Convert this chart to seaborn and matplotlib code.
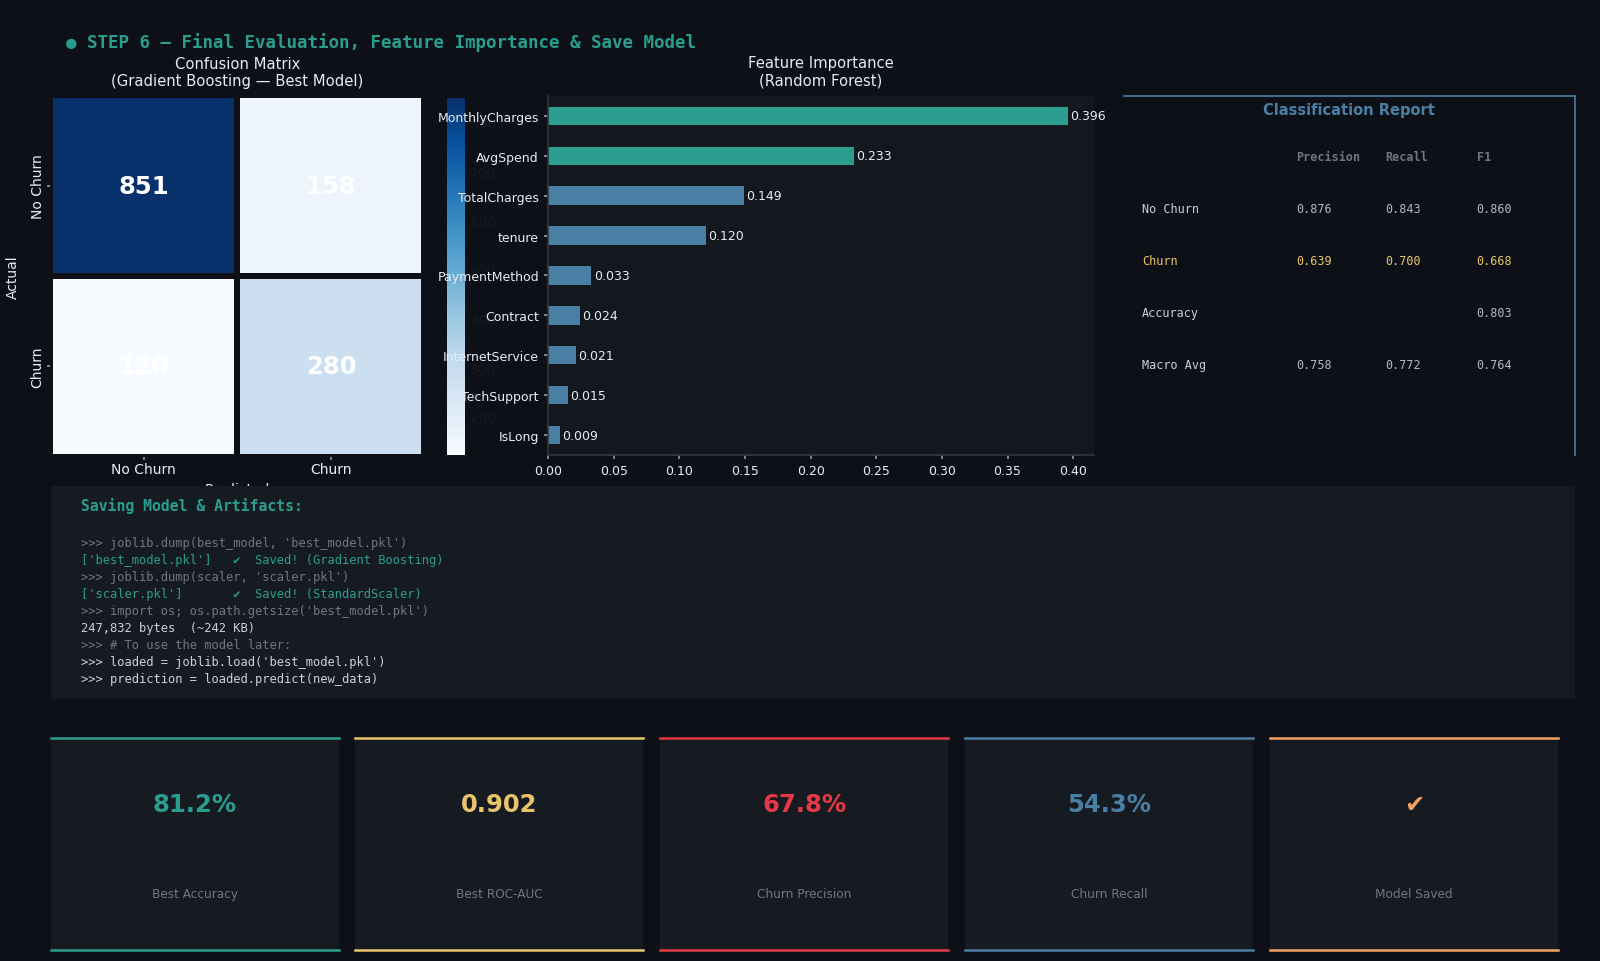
import matplotlib
matplotlib.use("Agg")
import matplotlib.pyplot as plt
import seaborn as sns
import numpy as np
import pandas as pd

# ---- data ----
cm_labels = ["No Churn", "Churn"]
cm_values = [[851, 158], [120, 280]]

features = ["MonthlyCharges", "AvgSpend", "TotalCharges", "tenure", "PaymentMethod",
            "Contract", "InternetService", "TechSupport", "IsLong"]
importances = [0.396, 0.233, 0.149, 0.120, 0.033, 0.024, 0.021, 0.015, 0.009]

report_cols = ["Precision", "Recall", "F1"]
report_rows = ["No Churn", "Churn", "Accuracy", "Macro Avg"]
report_vals = [["0.876", "0.843", "0.860"],
               ["0.639", "0.700", "0.668"],
               ["", "", "0.803"],
               ["0.758", "0.772", "0.764"]]

code_lines = [">>> joblib.dump(best_model, 'best_model.pkl')",
              "['best_model.pkl']   \u2714  Saved! (Gradient Boosting)",
              ">>> joblib.dump(scaler, 'scaler.pkl')",
              "['scaler.pkl']       \u2714  Saved! (StandardScaler)",
              ">>> import os; os.path.getsize('best_model.pkl')",
              "247,832 bytes  (~242 KB)",
              ">>> # To use the model later:",
              ">>> loaded = joblib.load('best_model.pkl')",
              ">>> prediction = loaded.predict(new_data)"]
code_kinds = ["cmd", "out", "cmd", "out", "cmd", "txt", "cmd", "txt", "txt"]

card_values = ["81.2%", "0.902", "67.8%", "54.3%", "\u2714"]
card_labels = ["Best Accuracy", "Best ROC-AUC", "Churn Precision", "Churn Recall", "Model Saved"]

# ---- style ----
BG = "#0d1117"
PANEL = "#161b22"
TEAL = "#2a9d8f"
YELLOW = "#e9c46a"
RED = "#e63946"
BLUE = "#4a7fa5"
ORANGE = "#f4a261"
TEXT = "#e6edf3"
MUTED = "#8b949e"
DIM = "#6e7681"

sns.set_theme(style="dark")
plt.rcParams["font.family"] = ["DejaVu Sans"]
plt.rcParams["figure.facecolor"] = BG
plt.rcParams["axes.facecolor"] = BG

fig = plt.figure(figsize=(16, 9.62), dpi=100)
fig.text(0.0415, 0.9555, "\u25cf STEP 6 \u2014 Final Evaluation, Feature Importance & Save Model",
         color=TEAL, fontsize=12.6, fontweight="bold", family="DejaVu Sans Mono", va="center")

# confusion matrix
ax_cm = fig.add_axes([0.0313, 0.524, 0.2340, 0.376])
ax_cb = fig.add_axes([0.2793, 0.526, 0.0115, 0.371])
cm_df = pd.DataFrame(cm_values, index=cm_labels, columns=cm_labels)
sns.heatmap(cm_df, annot=True, fmt="d", cmap="Blues", ax=ax_cm, cbar_ax=ax_cb,
            linewidths=3, linecolor=BG,
            annot_kws={"fontsize": 17.5, "fontweight": "bold", "color": "white"})
ax_cm.set_title("Confusion Matrix\n(Gradient Boosting \u2014 Best Model)", color=TEXT,
                fontsize=10.6, pad=7)
ax_cm.set_ylabel("Actual", color=TEXT, fontsize=10, labelpad=8)
ax_cm.set_xlabel("Predicted", color=TEXT, fontsize=10)
ax_cm.tick_params(colors=TEXT, labelsize=10, left=True, bottom=True, length=2, pad=2)
ax_cm.tick_params(axis="both", color=MUTED)
for t in ax_cm.get_yticklabels():
    t.set_rotation(90)
    t.set_va("center")
ax_cb.tick_params(colors="#151a21", labelsize=10, length=0)
ax_cb.set_frame_on(False)

# feature importance
ax_fi = fig.add_axes([0.3425, 0.526, 0.3412, 0.3733])
ax_fi.set_facecolor("#13171e")
fi_df = pd.DataFrame({"feature": features, "importance": importances})
bar_colors = [TEAL, TEAL] + [BLUE] * (len(features) - 2)
sns.barplot(data=fi_df, x="importance", y="feature", hue="feature", palette=bar_colors,
            legend=False, width=0.46, ax=ax_fi, saturation=1, edgecolor="none", linewidth=0)
for i, v in enumerate(importances):
    ax_fi.text(v + 0.002, i, f"{v:.3f}", color=TEXT, fontsize=9, va="center")
ax_fi.set_xlim(0, max(importances) * 1.05)
ax_fi.set_title("Feature Importance\n(Random Forest)", color=TEXT, fontsize=10.6, pad=8)
ax_fi.set_xlabel("")
ax_fi.set_ylabel("")
ax_fi.tick_params(colors=TEXT, labelsize=9, left=True, bottom=True, length=3)
ax_fi.tick_params(axis="both", color=MUTED)
for s in ["top", "right"]:
    ax_fi.spines[s].set_visible(False)
for s in ["left", "bottom"]:
    ax_fi.spines[s].set_color("#30363d")
    ax_fi.spines[s].set_visible(True)

# classification report
ax_cr = fig.add_axes([0.7022, 0.526, 0.2819, 0.373])
ax_cr.set_xticks([])
ax_cr.set_yticks([])
ax_cr.set_xlim(0, 1)
ax_cr.set_ylim(0, 1)
for s in ["left", "bottom"]:
    ax_cr.spines[s].set_visible(False)
for s in ["top", "right"]:
    ax_cr.spines[s].set_visible(True)
    ax_cr.spines[s].set_color(BLUE)
    ax_cr.spines[s].set_linewidth(1.2)
ax_cr.text(0.5, 0.963, "Classification Report", color=BLUE, fontsize=10.5,
           fontweight="bold", ha="center", va="center")
col_x = [0.382, 0.581, 0.783]
for cx, c in zip(col_x, report_cols):
    ax_cr.text(cx, 0.832, c, color=DIM, fontsize=8.5, fontweight="bold",
               family="DejaVu Sans Mono", va="center")
row_y = [0.6875, 0.543, 0.398, 0.253]
for ry, name, vals in zip(row_y, report_rows, report_vals):
    col = YELLOW if name == "Churn" else "#c9d1d9"
    ax_cr.text(0.0407, ry, name, color=col, fontsize=8.5, family="DejaVu Sans Mono", va="center")
    for cx, v in zip(col_x, vals):
        ax_cr.text(cx, ry, v, color=col if name == "Churn" else "#b1bac4", fontsize=8.5,
                   family="DejaVu Sans Mono", va="center")

# code box
ax_code = fig.add_axes([0.0319, 0.2725, 0.9522, 0.2216], zorder=5)
ax_code.set_facecolor(PANEL)
ax_code.set_xticks([])
ax_code.set_yticks([])
for s in ax_code.spines.values():
    s.set_visible(False)
ax_code.text(0.0194, 0.909, "Saving Model & Artifacts:", color=TEAL, fontsize=10.6,
             fontweight="bold", family="DejaVu Sans Mono", va="center", transform=ax_code.transAxes)
kind_color = {"cmd": DIM, "out": TEAL, "txt": "#c9d1d9"}
for i, (line, kind) in enumerate(zip(code_lines, code_kinds)):
    ax_code.text(0.0194, 0.735 - i * 0.0801, line, color=kind_color[kind], fontsize=8.7,
                 family="DejaVu Sans Mono", va="center", transform=ax_code.transAxes)

# metric cards
card_colors = [TEAL, YELLOW, RED, BLUE, ORANGE]
card_left = [50, 348, 647, 946, 1245]
for lx, val, lab, col in zip(card_left, card_values, card_labels, card_colors):
    ax = fig.add_axes([lx / 1568, 0.0117, 282 / 1568, 0.2206])
    ax.set_facecolor(PANEL)
    ax.set_xticks([])
    ax.set_yticks([])
    for s in ["left", "right"]:
        ax.spines[s].set_visible(False)
    for s in ["top", "bottom"]:
        ax.spines[s].set_visible(True)
        ax.spines[s].set_color(col)
        ax.spines[s].set_linewidth(1.8)
    ax.text(0.5, 0.6875, val, color=col, fontsize=17.5, fontweight="bold",
            ha="center", va="center", transform=ax.transAxes)
    ax.text(0.5, 0.264, lab, color=DIM, fontsize=8.7, ha="center", va="center",
            transform=ax.transAxes)

fig.savefig("out.png", dpi=100, facecolor=BG)
